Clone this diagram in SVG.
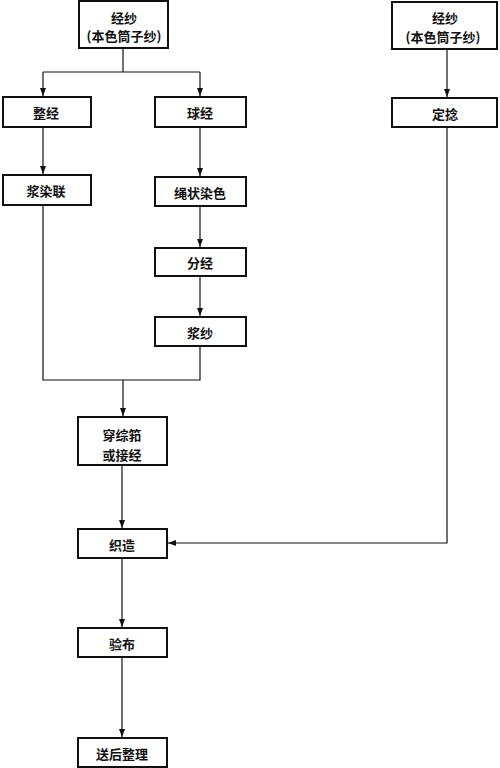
<svg xmlns="http://www.w3.org/2000/svg" width="500" height="768" viewBox="0 0 500 768">
<style>
.box{fill:#fff;stroke:#111;stroke-width:2}
.t{font-family:"Noto Sans CJK SC","Noto Sans",sans-serif;font-size:13px;font-weight:700;fill:#111;text-anchor:middle;dominant-baseline:central}
.c{fill:none;stroke:#111;stroke-width:1.2}
</style>
<defs>
<marker id="ah" viewBox="0 0 8 6" refX="8" refY="3" markerWidth="8" markerHeight="6" markerUnits="userSpaceOnUse" orient="auto">
<path d="M0,0 L8,3 L0,6 Z" fill="#111"/>
</marker>
</defs>
<rect width="500" height="768" fill="#fff"/>
<g id="connectors">
<path class="c" d="M123,48 V72"/>
<path class="c" d="M43,72 H200"/>
<path class="c" d="M43,72 V96" marker-end="url(#ah)"/>
<path class="c" d="M200,72 V96" marker-end="url(#ah)"/>
<path class="c" d="M43,127 V174" marker-end="url(#ah)"/>
<path class="c" d="M200,127 V176" marker-end="url(#ah)"/>
<path class="c" d="M200,206 V247" marker-end="url(#ah)"/>
<path class="c" d="M200,276 V316" marker-end="url(#ah)"/>
<path class="c" d="M43,205 V380 H200 V346"/>
<path class="c" d="M123,380 V416" marker-end="url(#ah)"/>
<path class="c" d="M122,465 V528" marker-end="url(#ah)"/>
<path class="c" d="M122,558 V627" marker-end="url(#ah)"/>
<path class="c" d="M122,657 V737" marker-end="url(#ah)"/>
<path class="c" d="M447,49 V97" marker-end="url(#ah)"/>
<path class="c" d="M447,127 V543 H168" marker-end="url(#ah)"/>
</g>
<g id="n-yarn-left">
<rect class="box" x="79" y="1" width="89" height="47"/>
<text class="t" x="124" y="17">经纱</text>
<text class="t" x="124" y="35">(本色筒子纱)</text>
</g>
<g id="n-zhengjing">
<rect class="box" x="3" y="97" width="88" height="30"/>
<text class="t" x="46" y="112">整经</text>
</g>
<g id="n-qiujing">
<rect class="box" x="155" y="97" width="91" height="30"/>
<text class="t" x="200" y="112">球经</text>
</g>
<g id="n-jiangranlian">
<rect class="box" x="3" y="175" width="88" height="30"/>
<text class="t" x="46" y="190">浆染联</text>
</g>
<g id="n-shengzhuang">
<rect class="box" x="155" y="177" width="91" height="29"/>
<text class="t" x="200" y="192">绳状染色</text>
</g>
<g id="n-fenjing">
<rect class="box" x="155" y="248" width="91" height="28"/>
<text class="t" x="200" y="262">分经</text>
</g>
<g id="n-jiangsha">
<rect class="box" x="155" y="317" width="91" height="29"/>
<text class="t" x="200" y="332">浆纱</text>
</g>
<g id="n-chuanzong">
<rect class="box" x="78" y="417" width="89" height="48"/>
<text class="t" x="122" y="434">穿综筘</text>
<text class="t" x="122" y="454">或接经</text>
</g>
<g id="n-zhizao">
<rect class="box" x="78" y="529" width="89" height="29"/>
<text class="t" x="122" y="544">织造</text>
</g>
<g id="n-yanbu">
<rect class="box" x="78" y="628" width="89" height="29"/>
<text class="t" x="122" y="643">验布</text>
</g>
<g id="n-songhou">
<rect class="box" x="78" y="738" width="89" height="29"/>
<text class="t" x="122" y="753">送后整理</text>
</g>
<g id="n-yarn-right">
<rect class="box" x="392" y="2" width="105" height="47"/>
<text class="t" x="445" y="17">经纱</text>
<text class="t" x="443" y="36">(本色筒子纱)</text>
</g>
<g id="n-dingnian">
<rect class="box" x="392" y="98" width="105" height="29"/>
<text class="t" x="445" y="113">定捻</text>
</g>
</svg>
